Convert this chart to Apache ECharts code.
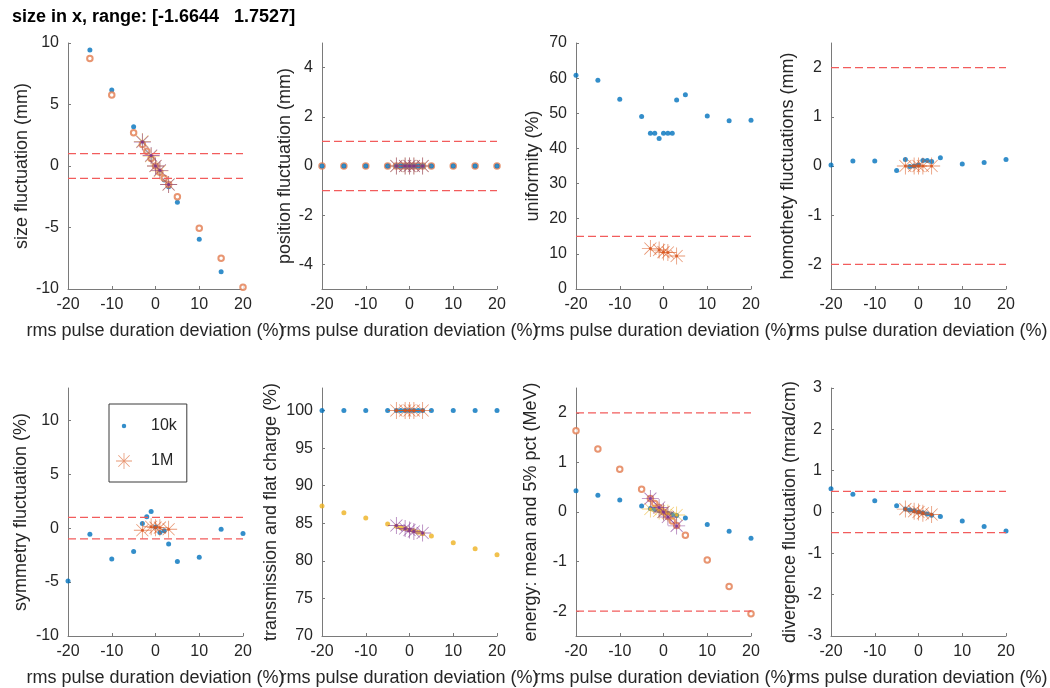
<!DOCTYPE html>
<html>
<head>
<meta charset="utf-8">
<script src="https://cdn.jsdelivr.net/npm/echarts@6/dist/echarts.min.js"></script>
<style>
  html, body { margin: 0; padding: 0; background: #ffffff; }
  #chart { width: 1050px; height: 688px; }
</style>
</head>
<body>
<div id="chart"></div>
<script>
// ---------- text ----------
const TITLE = 'size in x, range: [-1.6644   1.7527]';
const X_NAME = 'rms pulse duration deviation (%)';

// ---------- sample positions (rms pulse duration deviation, %) ----------
const dev10k = [-20, -15, -10, -5, -3, -2, -1, 0, 1, 2, 3, 5, 10, 15, 20];
const dev1M = [-3, -1, 0, 1, 3];

// ---------- size fluctuation (mm) ----------
const size10k    = [null, 9.43, 6.18, 3.2, 1.9, 1.14, 0.57, 0.03, -0.5, -1.14, -1.68, -2.95, -5.96, -8.59, null];
const sizeAlt10k = [null, 8.75, 5.77, 2.71, 1.75, 1.2, 0.6, 0.0, -0.5, -1.0, -1.5, -2.5, -5.07, -7.5, -9.86];
const size1M     = [2.0, 0.8, 0.0, -0.4, -1.5];
const sizeAlt1M  = [1.95, 0.85, 0.0, -0.35, -1.5];
const sizeLimits = [1, -1];

// ---------- position fluctuation (mm) ----------
const pos10k    = [0, 0, 0, 0, 0, 0, 0, 0, 0, 0, 0, 0, 0, 0, 0];
const posAlt10k = [0, 0, 0, 0, 0, 0, 0, 0, 0, 0, 0, 0, 0, 0, 0];
const pos1M     = [0, 0, 0, 0, 0];
const posAlt1M  = [0, 0, 0, 0, 0];
const posLimits = [1, -1];

// ---------- uniformity (%) ----------
const unif10k = [60.8, 59.4, 54.0, 49.1, 44.3, 44.3, 42.8, 44.3, 44.3, 44.3, 53.8, 55.3, 49.2, 47.9, 48.0];
const unif1M  = [11.5, 11.1, 10.5, 10.4, 9.4];
const unifLimits = [15];

// ---------- homothety fluctuations (mm) ----------
const homo10k = [0.02, 0.1, 0.1, -0.09, 0.13, -0.01, 0.0, 0.02, 0.11, 0.11, 0.09, 0.17, 0.04, 0.07, 0.13];
const homo1M  = [0, 0, 0, 0, 0];
const homoLimits = [2, -2];

// ---------- symmetry fluctuation (%) ----------
const sym10k = [-4.9, -0.56, -2.85, -2.17, 0.43, 1.05, 1.55, 0.12, -0.4, -0.25, -1.46, -3.1, -2.7, -0.1, -0.5];
const sym1M  = [-0.19, 0.13, 0.05, 0.05, -0.1];
const symLimits = [1, -1];

// ---------- transmission and flat charge (%) ----------
const trans10k = [100, 100, 100, 100, 100, 100, 100, 100, 100, 100, 100, 100, 100, 100, 100];
const trans1M  = [100, 100, 100, 100, 100];
const flat10k  = [87.3, 86.4, 85.7, 84.9, 84.6, 84.4, 84.3, 84.1, 84.0, 83.8, 83.6, 83.3, 82.4, 81.6, 80.8];
const flat1M   = [84.7, 84.3, 84.1, 83.9, 83.7];
const transLimits = [];

// ---------- energy: mean and 5% pct (MeV) ----------
const energyMean10k = [0.43, 0.34, 0.24, 0.12, 0.07, 0.05, 0.03, 0.0, -0.03, -0.05, -0.07, -0.12, -0.25, -0.39, -0.53];
const energyPct10k  = [1.64, 1.27, 0.86, 0.46, 0.27, 0.17, 0.09, 0.0, -0.09, -0.18, -0.27, -0.47, -0.97, -1.5, -2.05];
const energyMean1M  = [0.06, 0.02, 0.0, -0.02, -0.06];
const energyPct1M   = [0.27, 0.09, 0.0, -0.1, -0.28];
const energyLimits = [2, -2];

// ---------- divergence fluctuation (mrad/cm) ----------
const div10k = [0.56, 0.43, 0.27, 0.15, 0.07, 0.05, 0.03, 0.0, -0.02, -0.05, -0.08, -0.11, -0.22, -0.35, -0.46];
const div1M  = [0.07, 0.02, 0.0, -0.03, -0.06];
const divLimits = [0.5, -0.5];

// ---------- axis ticks ----------
const X_TICKS = [-20, -10, 0, 10, 20];
const sizeTicks = [-10, -5, 0, 5, 10];
const posTicks = [-4, -2, 0, 2, 4];
const unifTicks = [0, 10, 20, 30, 40, 50, 60, 70];
const homoTicks = [-2, -1, 0, 1, 2];
const symTicks = [-10, -5, 0, 5, 10];
const transTicks = [70, 75, 80, 85, 90, 95, 100];
const energyTicks = [-2, -1, 0, 1, 2];
const divTicks = [-3, -2, -1, 0, 1, 2, 3];

// ---------- styling ----------
const FONT = '"Liberation Sans", Arial, Helvetica, sans-serif';
const C = { blue: '#0072BD', orange: '#D95319', yellow: '#EDB120', purple: '#7E2F8E', limit: '#F25C5C', axis: '#7a7a7a', text: '#262626' };
// eight-armed asterisk built from thin bars (filled path)
const STAR = 'path://M-10,-0.5L10,-0.5L10,0.5L-10,0.5Z M-0.5,-10L0.5,-10L0.5,10L-0.5,10Z M-7.42,-6.72L-6.72,-7.42L7.42,6.72L6.72,7.42Z M-7.42,6.72L6.72,-7.42L7.42,-6.72L-6.72,7.42Z';
// small dot centred inside a 20x20 box (legend icon)
const DOT = 'path://M-10,-10L-10,-9.99L-9.99,-10Z M10,10L10,9.99L9.99,10Z M-2.8,0A2.8,2.8 0 1 0 2.8,0A2.8,2.8 0 1 0 -2.8,0Z';

const panels = [
  { yName: 'size fluctuation (mm)', min: -10, max: 10, ticks: sizeTicks, left: 68, top: 43, height: 246, nameGap: 37,
    dots: [[size10k, C.blue]], circles: [sizeAlt10k], stars: [[size1M, C.yellow], [sizeAlt1M, C.purple]], limits: sizeLimits },
  { yName: 'position fluctuation (mm)', min: -5, max: 5, ticks: posTicks, left: 322, top: 43, height: 246, nameGap: 28,
    dots: [[pos10k, C.blue]], circles: [posAlt10k], stars: [[pos1M, C.yellow], [posAlt1M, C.purple]], limits: posLimits, circlesBelow: true },
  { yName: 'uniformity (%)', min: 0, max: 70, ticks: unifTicks, left: 576, top: 43, height: 246, nameGap: 34,
    dots: [[unif10k, C.blue]], circles: [], stars: [[unif1M, C.orange]], limits: unifLimits },
  { yName: 'homothety fluctuations (mm)', min: -2.5, max: 2.5, ticks: homoTicks, left: 831, top: 43, height: 246, nameGap: 34,
    dots: [[homo10k, C.blue]], circles: [], stars: [[homo1M, C.orange]], limits: homoLimits },
  { yName: 'symmetry fluctuation (%)', min: -10, max: 13, ticks: symTicks, left: 68, top: 388, height: 248, nameGap: 38,
    dots: [[sym10k, C.blue]], circles: [], stars: [[sym1M, C.orange]], limits: symLimits },
  { yName: 'transmission and flat charge (%)', min: 70, max: 103, ticks: transTicks, left: 322, top: 388, height: 248, nameGap: 42,
    dots: [[trans10k, C.blue], [flat10k, C.yellow]], circles: [], stars: [[trans1M, C.orange], [flat1M, C.purple]], limits: transLimits },
  { yName: 'energy: mean and 5% pct (MeV)', min: -2.5, max: 2.5, ticks: energyTicks, left: 576, top: 388, height: 248, nameGap: 36,
    dots: [[energyMean10k, C.blue]], circles: [energyPct10k], stars: [[energyMean1M, C.yellow], [energyPct1M, C.purple]], limits: energyLimits },
  { yName: 'divergence fluctuation (mrad/cm)', min: -3, max: 3, ticks: divTicks, left: 831, top: 388, height: 248, nameGap: 32,
    dots: [[div10k, C.blue]], circles: [], stars: [[div1M, C.orange]], limits: divLimits }
];

function pairs(xs, ys) {
  const out = [];
  xs.forEach((x, i) => { if (ys[i] !== null && ys[i] !== undefined) out.push([x, ys[i]]); });
  return out;
}

const grids = [], xAxes = [], yAxes = [], series = [];

panels.forEach((p, k) => {
  grids.push({ left: p.left, top: p.top, width: 175, height: p.height });
  xAxes.push({
    gridIndex: k, type: 'value', min: -20, max: 20, interval: 10,
    name: X_NAME, nameLocation: 'middle', nameGap: 33,
    nameTextStyle: { fontFamily: FONT, fontSize: 18, color: C.text },
    axisLine: { show: true, onZero: false, lineStyle: { color: C.axis, width: 1 } },
    axisTick: { show: true, inside: true, length: 3, lineStyle: { color: C.axis } },
    axisLabel: { fontFamily: FONT, fontSize: 16, color: C.text, margin: 8, customValues: X_TICKS },
    splitLine: { show: false }
  });
  yAxes.push({
    gridIndex: k, type: 'value', min: p.min, max: p.max,
    name: p.yName, nameLocation: 'middle', nameGap: p.nameGap, nameRotate: 90,
    nameTextStyle: { fontFamily: FONT, fontSize: 18, color: C.text },
    axisLine: { show: true, onZero: false, lineStyle: { color: C.axis, width: 1 } },
    axisTick: { show: true, inside: true, length: 3, lineStyle: { color: C.axis }, customValues: p.ticks },
    axisLabel: { fontFamily: FONT, fontSize: 16, color: C.text, margin: 9, customValues: p.ticks },
    splitLine: { show: false }
  });

  const addCircles = () => p.circles.forEach(ys => series.push({
    type: 'scatter', xAxisIndex: k, yAxisIndex: k, clip: false, silent: true,
    symbol: 'emptyCircle', symbolSize: 5.5,
    itemStyle: { color: '#E27A4E', borderColor: '#E27A4E', borderWidth: 0.8 },
    data: pairs(dev10k, ys)
  }));

  if (p.circlesBelow) addCircles();
  p.dots.forEach(([ys, col]) => series.push({
    name: (col === C.blue) ? '10k' : undefined,
    type: 'scatter', xAxisIndex: k, yAxisIndex: k, clip: false, silent: true,
    symbol: 'circle', symbolSize: 5,
    itemStyle: { color: col },
    data: pairs(dev10k, ys)
  }));
  if (!p.circlesBelow) addCircles();

  p.stars.forEach(([ys, col]) => {
    series.push({
      name: (col === C.orange) ? '1M' : undefined,
      type: 'scatter', xAxisIndex: k, yAxisIndex: k, clip: false, silent: true,
      symbol: STAR, symbolSize: 17,
      itemStyle: { color: col, opacity: 0.6 },
      data: pairs(dev1M, ys)
    });
    series.push({
      type: 'scatter', xAxisIndex: k, yAxisIndex: k, clip: false, silent: true,
      symbol: 'circle', symbolSize: 3,
      itemStyle: { color: col },
      data: pairs(dev1M, ys)
    });
  });

  p.limits.forEach(v => series.push({
    type: 'line', xAxisIndex: k, yAxisIndex: k, silent: true, symbol: 'none',
    lineStyle: { color: C.limit, width: 1.2, type: [8, 4] },
    data: [[-20, v], [20, v]]
  }));
});

const chart = echarts.init(document.getElementById('chart'), null, { renderer: 'canvas' });
chart.setOption({
  animation: false,
  backgroundColor: '#ffffff',
  title: {
    text: TITLE, left: 12, top: 8, padding: 0,
    textStyle: { fontFamily: FONT, fontSize: 18, fontWeight: 'bold', color: '#000000' }
  },
  legend: {
    orient: 'vertical', left: 109, top: 404,
    padding: [14, 10, 13, 7], itemGap: 19, itemWidth: 44, itemHeight: 16,
    selectedMode: false, backgroundColor: '#ffffff',
    borderColor: '#3a3a3a', borderWidth: 1,
    textStyle: { fontFamily: FONT, fontSize: 16, color: C.text },
    data: [{ name: '10k', icon: DOT }, { name: '1M', icon: STAR }]
  },
  grid: grids,
  xAxis: xAxes,
  yAxis: yAxes,
  series: series
});
</script>
</body>
</html>
